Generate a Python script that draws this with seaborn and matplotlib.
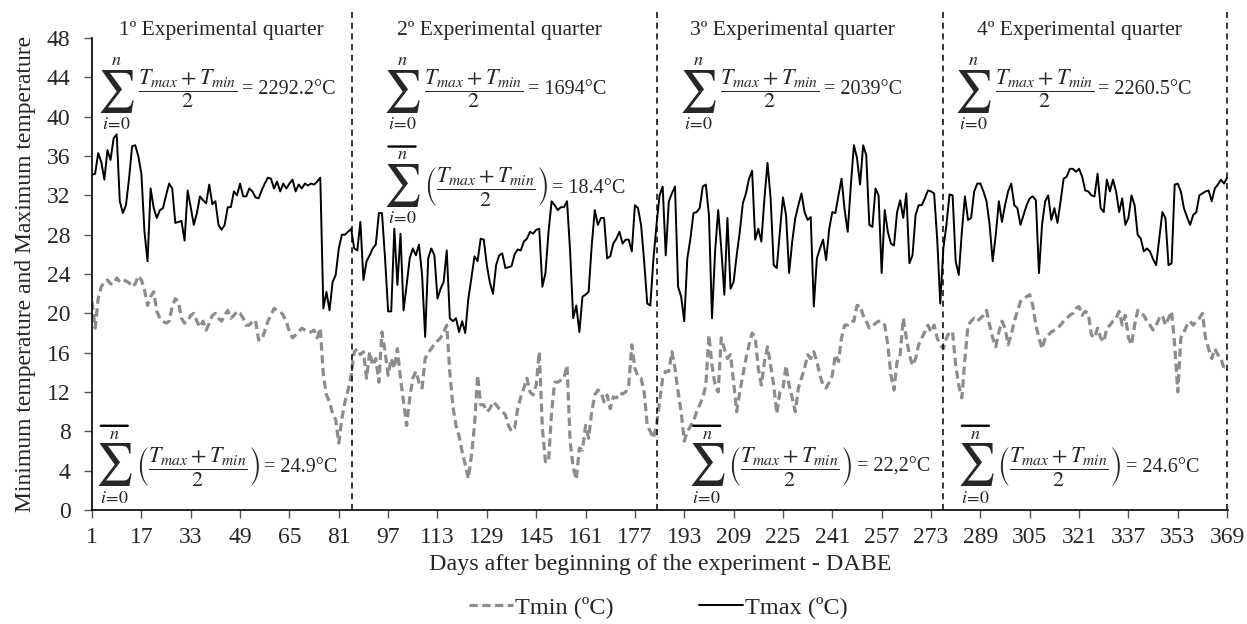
import numpy as np
import pandas as pd
import matplotlib
matplotlib.use("Agg")
import matplotlib.pyplot as plt
import seaborn as sns

# ---------------- data ----------------
tmax = [
    34.1, 34.2, 36.3, 35.4, 33.6, 36.6, 35.6, 37.8, 38.2, 31.4,
    30.2, 31.0, 33.7, 37.0, 37.1, 36.0, 34.2, 28.3, 25.3, 32.7,
    30.7, 29.7, 30.5, 30.7, 32.0, 33.2, 32.7, 29.2, 29.3, 29.4,
    27.4, 32.5, 30.8, 29.0, 30.2, 31.9, 31.5, 31.2, 33.1, 31.1,
    31.4, 29.0, 28.5, 29.0, 30.8, 30.8, 32.4, 32.0, 33.2, 31.9,
    31.9, 32.7, 32.4, 31.8,
    31.7, 32.5, 33.2, 33.8, 33.7, 32.7, 33.4, 32.4, 33.2, 32.7,
    33.2, 33.6, 32.4, 33.1, 32.7, 33.2, 33.0, 33.2, 33.1, 33.4, 33.8,
    20.5, 22.2, 20.3, 23.2, 23.9, 26.6, 28.0, 28.0, 28.3, 28.6,
    26.6, 26.4, 29.3, 23.4, 25.3, 25.9, 26.6, 27.0, 30.2, 30.2,
    25.6, 20.2, 20.2, 28.6, 22.9, 28.1, 20.3, 22.9, 25.6, 26.6,
    25.9, 27.0, 23.9, 17.6, 25.6, 26.6, 25.9, 21.5, 22.5, 23.2,
    26.4, 19.5, 19.2,
    19.5, 18.1, 19.2, 18.0, 21.5, 23.6, 25.8, 25.3, 27.6, 27.5,
    24.9, 23.1, 22.0, 24.9, 25.9, 26.1, 24.6, 24.7, 24.8, 26.0,
    26.5, 26.4, 27.3, 27.6, 28.3, 28.1, 28.5, 28.6, 22.7, 24.1,
    28.3, 31.4, 31.0, 30.5, 30.8, 30.8, 31.4, 26.3, 19.5, 20.8,
    18.1, 21.7, 21.9, 22.2, 26.9, 30.5, 29.0, 29.7, 29.7, 25.6,
    25.8, 27.1, 27.6, 28.3, 27.1, 27.5, 27.5, 26.3, 31.0, 30.7,
    29.0, 25.3, 21.0, 20.8,
    25.5, 29.0, 32.0, 32.9, 25.9, 31.4, 32.2, 32.9, 22.7, 21.7,
    19.2, 25.6, 27.6, 30.2, 30.3, 30.7, 32.9, 33.1, 30.0, 19.5,
    26.3, 30.5, 26.6, 21.9, 29.7, 22.5, 23.2, 25.9, 28.3, 31.2,
    32.2, 33.7, 34.5, 27.5, 28.6, 27.3, 31.7, 35.3, 31.7, 24.9,
    24.6, 28.3, 31.8, 30.0, 24.1, 27.3, 29.7, 31.0, 32.2, 30.3,
    29.5, 29.8, 20.7, 25.6, 26.6, 27.5, 25.4, 28.6, 30.3, 30.2,
    32.0, 33.7, 30.5, 28.3, 33.0,
    37.1, 35.8, 33.1, 37.1, 36.1, 29.0, 28.8, 32.7, 32.0, 24.1,
    30.5, 28.3, 27.1, 26.9, 30.3, 31.5, 29.7, 32.2, 25.1, 25.9,
    30.0, 31.0, 31.0, 31.7, 32.5, 32.4, 32.2, 27.6, 21.0, 26.6,
    29.0, 32.1, 32.0, 25.3, 23.9, 28.3, 31.9, 29.5, 29.7, 32.4,
    33.2, 33.2, 32.4, 31.4, 29.0, 25.3, 28.0, 31.4, 29.3, 31.0,
    32.4, 33.2, 31.0, 30.7, 29.0, 30.0, 31.0, 31.7, 31.9, 31.5,
    24.1,
    29.0, 31.4, 32.0, 29.5, 30.7, 29.2, 31.4, 33.7, 33.9, 34.7,
    34.7, 34.4, 34.7, 33.9, 32.5, 32.4, 32.0, 31.9, 34.2, 30.7,
    30.3, 33.6, 32.4, 33.6, 32.4, 30.3, 31.7, 29.0, 29.7, 32.0,
    31.0, 28.0, 27.6, 26.3, 26.6, 26.3, 25.5, 24.9, 27.6, 30.3,
    29.7, 24.9, 25.1, 33.1, 33.2, 32.4, 30.7, 29.8, 29.0, 30.0,
    30.3, 32.0, 32.2, 32.4, 32.5, 31.4, 32.7, 33.1, 33.6, 33.2,
    33.8,
]

tmin = [
    21.2, 18.5, 21.5, 22.7, 23.2, 23.4, 23.0, 23.0, 23.6, 23.2,
    23.4, 23.3, 23.1, 22.7, 23.0, 23.8, 23.4, 22.4, 20.8, 21.7,
    22.2, 20.2, 19.5, 19.2, 19.0, 19.2, 20.7, 21.5, 21.2, 19.5,
    19.0, 19.2, 19.8, 20.0, 19.2, 18.6, 19.2, 18.3, 19.0, 19.8,
    20.0, 19.5, 19.2, 19.8, 20.3, 19.5, 19.8, 20.2, 20.0, 19.5,
    18.8, 18.8, 19.2, 19.3,
    17.3, 17.3, 18.2, 19.2, 19.8, 20.5, 20.3, 20.2, 19.8, 19.2,
    18.1, 17.5, 17.8, 18.1, 18.5, 18.3, 18.1, 18.1, 18.3, 17.5,
    18.5, 13.7, 11.7, 11.0, 9.8, 9.2, 6.8, 9.3, 11.0, 12.2,
    13.7, 16.1, 16.4, 15.8, 16.1, 13.4, 16.1, 14.7, 15.4, 13.0,
    18.1, 16.1, 13.7, 15.4, 14.4, 16.4, 13.4, 11.0, 8.6, 11.4,
    13.4, 14.1, 13.0, 12.4, 15.4, 16.0, 16.4, 16.9, 17.2, 17.5,
    18.1, 18.8, 14.0, 10.5,
    8.6, 7.5, 5.9, 4.6, 3.2, 5.5, 8.6, 13.7, 10.7, 10.7,
    10.0, 10.3, 11.0, 10.7, 10.3, 10.0, 9.7, 8.6, 8.0, 8.3,
    10.3, 11.5, 12.4, 13.4, 12.0, 11.7, 12.7, 16.1, 8.3, 4.9,
    4.9, 10.0, 13.0, 13.0, 13.2, 13.4, 14.7, 7.0, 4.3, 3.1,
    6.3, 6.1, 8.6, 7.3, 10.0, 11.7, 12.2, 12.0, 11.0, 11.7,
    10.3, 11.5, 11.4, 11.9, 11.8, 12.0, 12.7, 16.8, 14.4, 13.6,
    13.4, 12.0, 8.6, 8.0,
    7.3, 8.6, 11.0, 13.4, 14.1, 14.1, 16.1, 14.4, 12.0, 10.0,
    7.0, 8.0, 8.5, 9.0, 10.0, 10.7, 11.4, 12.7, 17.8, 14.7,
    12.7, 12.0, 17.5, 16.4, 15.4, 15.8, 13.0, 10.0, 12.0, 13.7,
    15.4, 16.8, 18.0, 17.6, 14.4, 12.7, 15.1, 16.6, 14.7, 12.7,
    9.8, 12.0, 12.4, 14.7, 12.7, 11.4, 10.0, 12.4, 13.4, 14.4,
    15.8, 15.4, 16.1, 15.1, 13.7, 12.7, 12.4, 13.0, 13.7, 15.8,
    15.1, 17.5, 18.8, 18.8, 19.2,
    19.2, 20.8, 20.8, 19.8, 19.2, 18.5, 18.7, 19.0, 19.2, 19.2,
    18.8, 16.8, 13.7, 12.2, 15.1, 15.8, 19.5, 17.5, 15.8, 14.7,
    15.4, 16.8, 17.5, 18.1, 18.8, 18.1, 18.8, 17.5, 16.8, 16.4,
    17.5, 18.1, 18.1, 14.7, 12.7, 11.4, 15.4, 18.8, 19.2, 19.5,
    19.2, 19.5, 19.8, 20.3, 18.8, 17.5, 16.6, 18.1, 19.2, 18.5,
    16.8, 17.8, 19.2, 20.2, 21.2, 21.5, 21.7, 21.9, 20.8, 18.8,
    17.5,
    16.4, 17.5, 17.8, 18.1, 18.3, 18.5, 18.8, 19.2, 19.5, 19.8,
    20.0, 20.5, 20.7, 19.8, 20.2, 20.0, 17.8, 17.5, 18.5, 17.5,
    17.1, 18.5, 18.8, 19.2, 19.5, 20.2, 18.8, 19.8, 17.5, 16.8,
    18.8, 20.3, 20.0, 19.8, 19.2, 18.8, 18.3, 18.8, 19.5, 19.8,
    18.8, 19.5, 20.2, 16.8, 12.0, 17.5, 18.1, 18.8, 19.2, 18.8,
    19.2, 19.5, 20.0, 17.5, 16.4, 15.4, 16.4, 15.8, 15.4, 14.4,
    14.7,
]

days = np.arange(1, len(tmax) + 1)
x_ticks = list(range(1, 370, 16))
y_ticks = list(range(0, 49, 4))
quarter_bounds = [85.2, 184.3, 277.0, 369.0]
quarter_titles = ["1º Experimental quarter", "2º Experimental quarter",
                  "3º Experimental quarter", "4º Experimental quarter"]
quarter_sums = ["2292.2°C", "1694°C", "2039°C", "2260.5°C"]
quarter_means = ["24.9°C", "18.4°C", "22,2°C", "24.6°C"]

df = pd.DataFrame({"day": days, "Tmin (ºC)": tmin, "Tmax (ºC)": tmax})

# ---------------- style ----------------
sns.set_theme(style="ticks")
plt.rcParams["font.family"] = ["Liberation Serif", "DejaVu Serif"]
plt.rcParams["mathtext.fontset"] = "stix"

fig = plt.figure(figsize=(12.47, 6.24), dpi=100)
ax = fig.add_axes([0.0738, 0.1827, 0.9110, 0.7563])

sns.lineplot(data=df, x="day", y="Tmin (ºC)", ax=ax, color="#8c8c8c",
             linewidth=2.3, label="Tmin (ºC)")
ax.lines[-1].set_dashes((2.6, 1.4))
sns.lineplot(data=df, x="day", y="Tmax (ºC)", ax=ax, color="black",
             linewidth=1.4, label="Tmax (ºC)")

ax.set_xlim(1, 369.3)
ax.set_ylim(0, 48)
ax.set_xticks(x_ticks)
ax.set_yticks(y_ticks)
ax.tick_params(axis="both", labelsize=17, length=5.5, width=1, color="#555555",
               direction="out")
ax.tick_params(axis="y", pad=10)
ax.tick_params(axis="x", pad=7)
for s in ["top", "right"]:
    ax.spines[s].set_visible(False)
for s in ["left", "bottom"]:
    ax.spines[s].set_color("black")
    ax.spines[s].set_linewidth(1.2)

ax.set_xlabel("Days after beginning of the experiment - DABE", fontsize=17.3, labelpad=4)
ax.set_ylabel("Minimum temperature and Maximum temperature", fontsize=17, labelpad=8)

# quarter separators
ax.vlines(quarter_bounds, 0, 51, colors="black", linestyles=(0, (4, 3)),
          linewidth=1.1, clip_on=False)

# quarter titles
title_x = [42.8, 133, 228, 321]
for tx, t in zip(title_x, quarter_titles):
    ax.text(tx, 48.8, t, ha="center", va="center", fontsize=15.5)


def formula(x, y, value, mean=False):
    """Big sigma with limits, fraction and result, chained left to right."""
    sig = ax.text(x, y, r"$\sum$", ha="center", va="center", fontsize=30)
    ax.annotate(r"$n$", xy=(0.5, 1.0), xycoords=sig, xytext=(0, -1),
                textcoords="offset points", ha="center", va="bottom", fontsize=13)
    ax.annotate(r"$i\!=\!0$", xy=(0.5, 0.0), xycoords=sig, xytext=(0, -1),
                textcoords="offset points", ha="center", va="top", fontsize=13)
    if mean:
        ax.annotate("", xy=(0.86, 1.33), xycoords=sig, xytext=(0.14, 1.33),
                    textcoords=sig,
                    arrowprops=dict(arrowstyle="-", lw=1.7, color="black",
                                    shrinkA=0, shrinkB=0))
        body = r"$\left(\dfrac{T_{max}+T_{min}}{2}\right)$"
        dy = -1
    else:
        body = r"$\dfrac{T_{max}+T_{min}}{2}$"
        dy = 2
    fr = ax.annotate(body, xy=(1.0, 0.5), xycoords=sig, xytext=(2, dy),
                     textcoords="offset points", ha="left", va="center", fontsize=16)
    ax.annotate("= " + value, xy=(1.0, 0.5), xycoords=fr, xytext=(3, -1),
                textcoords="offset points", ha="left", va="center", fontsize=14.5)


sum_pos = [(8.8, 42.6), (101.5, 42.6), (197.5, 42.6), (286.6, 42.6)]
mean_pos = [(8.2, 4.6), (101.5, 33.0), (200.3, 4.6), (287.4, 4.6)]
for (sx, sy), val in zip(sum_pos, quarter_sums):
    formula(sx, sy, val)
for (mx, my), val in zip(mean_pos, quarter_means):
    formula(mx, my, val, mean=True)

ax.get_legend().remove()
handles, labels = ax.get_legend_handles_labels()
fig.legend(handles, labels, loc="center", bbox_to_anchor=(0.528, 0.027), ncol=2,
           frameon=False, fontsize=17.5, handlelength=1.8, handletextpad=0.1,
           columnspacing=3.5)

fig.savefig("out.png", dpi=100)
